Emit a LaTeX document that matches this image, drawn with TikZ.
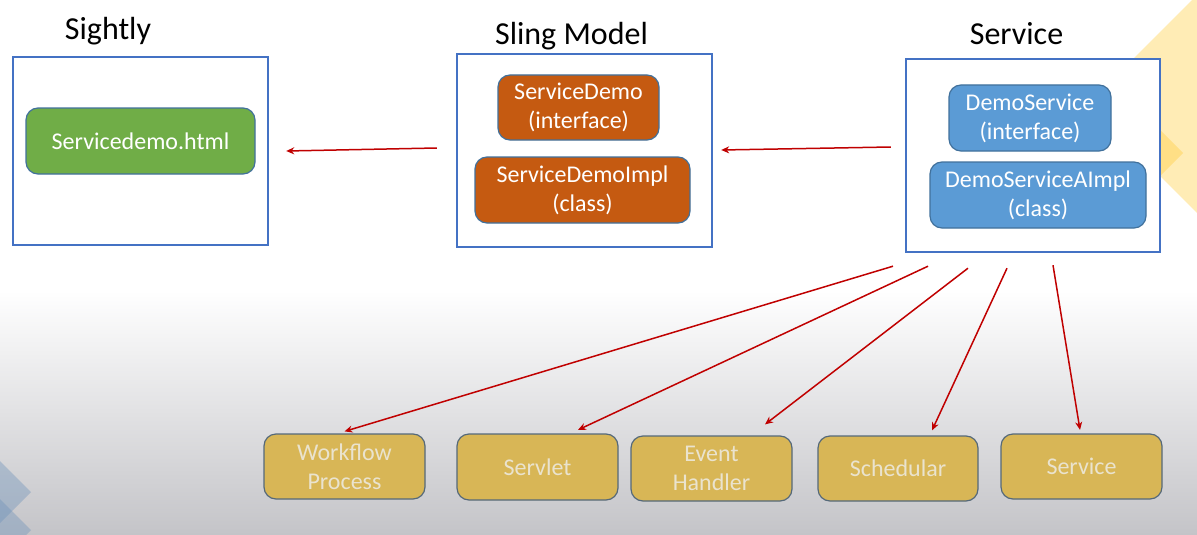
\documentclass[tikz,border=0pt]{standalone}
\usepackage{fontspec}
\setmainfont{Carlito}
\usetikzlibrary{arrows.meta}
\definecolor{framebl}{HTML}{4472C4}
\definecolor{edgebl}{HTML}{41719C}
\definecolor{grn}{HTML}{70AD47}
\definecolor{org}{HTML}{C55A11}
\definecolor{blu}{HTML}{5B9BD5}
\definecolor{ylw}{HTML}{D8B656}
\definecolor{ylwedge}{HTML}{55697A}
\definecolor{ylwtxt}{HTML}{EAE3CE}
\definecolor{arrred}{HTML}{C00000}
\definecolor{bggray}{HTML}{C4C4C8}
\definecolor{lightyel}{HTML}{FFECB5}
\definecolor{darkyel}{HTML}{FFDF85}
\definecolor{decobl}{HTML}{6F93BA}
\tikzset{
  frame/.style={draw=framebl, line width=2.4pt, fill=white},
  title/.style={font=\fontsize{32}{38}\selectfont, anchor=base, inner sep=0pt},
  inbox/.style={draw=edgebl, line width=1.2pt, rounded corners=12pt, text=white,
    align=center, font=\fontsize{24}{29}\selectfont, inner sep=0pt},
  botbox/.style={draw=ylwedge, line width=1.2pt, rounded corners=12pt, fill=ylw, text=ylwtxt,
    align=center, font=\fontsize{24}{29}\selectfont, inner sep=0pt,
    minimum width=161pt, minimum height=65pt},
  arr/.style={draw=arrred, line width=1.5pt, -{Stealth[length=8pt,width=7pt]}}
}
\begin{document}
\begin{tikzpicture}[x=1pt,y=-1pt]
\useasboundingbox (0,0) rectangle (1197,535);
% background
\fill[white] (0,0) rectangle (1197,535);
\shade[top color=white, bottom color=bggray] (0,290) rectangle (1197,535);
\begin{scope}
\clip (0,0) rectangle (1197,535);
\fill[lightyel] (1088,104) -- (1197,-5) -- (1197,213) -- cycle;
\fill[darkyel] (1183,153) -- (1130,100) -- (1077,153) -- (1130,206) -- cycle;
\fill[decobl, opacity=0.4] (31,492) -- (0,461) -- (-31,492) -- (0,523) -- cycle;
\fill[decobl, opacity=0.4] (31,530) -- (0,499) -- (-31,530) -- (0,561) -- cycle;
\end{scope}
% titles
\node[title] (tsightly) at (108,40) {Sightly};
\node[title] (tsling) at (571.5,45) {Sling Model};
\node[title] (tservice) at (1016.5,45) {Service};
% frames
\node[frame, minimum width=255pt, minimum height=188pt] (sightly) at (140.5,151) {};
\node[frame, minimum width=255pt, minimum height=193pt] (sling) at (584.5,150.5) {};
\node[frame, minimum width=254pt, minimum height=193pt] (service) at (1033,155.5) {};
% inner boxes
\node[inbox, fill=grn, minimum width=229pt, minimum height=66pt] (html) at (140.5,141) {Servicedemo.html};
\node[inbox, fill=org, minimum width=161pt, minimum height=65pt] (sdemo) at (578.5,107.5) {ServiceDemo\\(interface)};
\node[inbox, fill=org, minimum width=215pt, minimum height=66pt] (sdimpl) at (582.5,190) {ServiceDemoImpl\\(class)};
\node[inbox, fill=blu, minimum width=162pt, minimum height=66pt] (dserv) at (1030,118) {DemoService\\(interface)};
\node[inbox, fill=blu, minimum width=216pt, minimum height=66pt] (dsimpl) at (1038,195) {DemoServiceAImpl\\(class)};
% bottom boxes
\node[botbox] (wf) at (344.5,466.5) {Workflow\\Process};
\node[botbox, minimum height=66pt] (servlet) at (537.5,467) {Servlet};
\node[botbox] (event) at (711.5,468.5) {Event\\Handler};
\node[botbox, minimum width=160pt] (sched) at (898,468.5) {Schedular};
\node[botbox] (svc) at (1081.5,466.5) {Service};
% arrows
\draw[arr] ([xshift=-19pt,yshift=2.5pt]sling.west) -- ([xshift=17pt]sightly.east);
\draw[arr] ([xshift=-14pt,yshift=8.5pt]service.west) -- ([xshift=8pt,yshift=0.5pt]sling.east);
\draw[arr] ([xshift=-140pt,yshift=-13pt]service.south) -- ([yshift=2pt]wf.north);
\draw[arr] ([xshift=-105pt,yshift=-13pt]service.south) -- ([xshift=40.5pt,yshift=3.5pt]servlet.north);
\draw[arr] ([xshift=-65pt,yshift=-15pt]service.south) -- ([xshift=53.5pt,yshift=11pt]event.north);
\draw[arr] ([xshift=-26pt,yshift=-15pt]service.south) -- ([xshift=34pt,yshift=5pt]sched.north);
\draw[arr] ([xshift=20pt,yshift=-12pt]service.south) -- ([xshift=-1.5pt,yshift=3.5pt]svc.north);
\end{tikzpicture}
\end{document}
